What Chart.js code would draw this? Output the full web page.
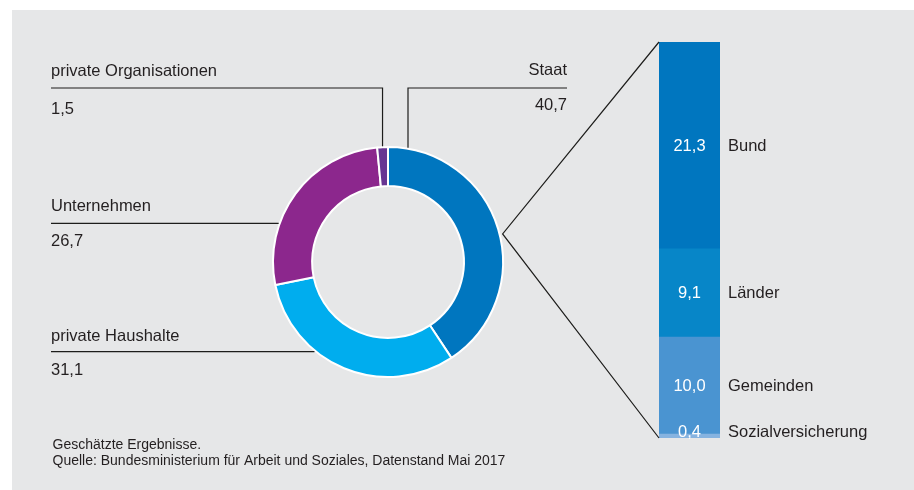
<!DOCTYPE html>
<html><head><meta charset="utf-8">
<script src="https://cdn.jsdelivr.net/npm/chart.js@4/dist/chart.umd.min.js"></script>
<style>
html,body{margin:0;padding:0;background:#fff;}
#wrap{position:relative;width:914px;height:490px;overflow:hidden;}
#panel{position:absolute;left:12px;top:10px;width:902px;height:480px;background:#e6e7e8;}
canvas{position:absolute;left:0;top:0;}
</style></head><body>
<div id="wrap"><div id="panel"></div>
<canvas id="bar" width="914" height="490"></canvas>
<canvas id="donut" width="914" height="490"></canvas>
</div>
<script>
// ---- data ----
const sectors = ['Staat', 'private Haushalte', 'Unternehmen', 'private Organisationen'];
const sectorValues = [40.7, 31.1, 26.7, 1.5];
const stateParts = ['Bund', 'Länder', 'Gemeinden', 'Sozialversicherung'];
const stateValues = [21.3, 9.1, 10.0, 0.4];
const notes = ['Geschätzte Ergebnisse.', 'Quelle: Bundesministerium für Arbeit und Soziales, Datenstand Mai 2017'];

// ---- styles ----
const sectorColors = ['#0076bf', '#00adee', '#8c278d', '#673592'];
const stateColors = ['#0076bf', '#0786c8', '#4a94d1', '#86b3e0'];
const FONT = "'Liberation Sans', Arial, Helvetica, sans-serif";
const TXT = '#231f20';
const LINE = '#1d1d1b';
const fmt = v => v.toFixed(1).replace('.', ',');

// label layout for donut (same order as sectors)
const labelLayout = [
  {align: 'right', x: 567, nameY: 75, lineY: 88, valueY: 110, elbowX: 408},
  {align: 'left', x: 51, nameY: 340.7, lineY: 351.7, valueY: 375},
  {align: 'left', x: 51, nameY: 210.7, lineY: 223.3, valueY: 246},
  {align: 'left', x: 51, nameY: 76, lineY: 88, valueY: 114, elbowMid: true}
];

Chart.defaults.font.family = FONT;

// ---- stacked bar (Staat breakdown) ----
const barTotal = stateValues.reduce((a, b) => a + b, 0);
const barDatasets = [];
for (let i = stateParts.length - 1; i >= 0; i--) {
  barDatasets.push({
    label: stateParts[i], data: [stateValues[i]], backgroundColor: stateColors[i],
    borderWidth: 0, stack: 's', barPercentage: 1, categoryPercentage: 1
  });
}
const barLabelPlugin = {
  id: 'barLabels',
  afterDatasetsDraw(chart) {
    const ctx = chart.ctx;
    ctx.save();
    ctx.textBaseline = 'alphabetic';
    chart.data.datasets.forEach((ds, di) => {
      const el = chart.getDatasetMeta(di).data[0];
      const top = Math.min(el.y, el.base), bot = Math.max(el.y, el.base);
      const h = bot - top;
      const yb = h < 20 ? bot - 1.3 : (top + bot) / 2 + 5.5;
      ctx.fillStyle = '#ffffff';
      ctx.textAlign = 'center';
      ctx.font = '16.5px ' + FONT;
      ctx.fillText(fmt(ds.data[0]), el.x, yb);
      ctx.fillStyle = TXT;
      ctx.textAlign = 'left';
      ctx.fillText(ds.label, el.x + el.width / 2 + 8, yb);
    });
    ctx.restore();
  }
};
const barChart = new Chart(document.getElementById('bar'), {
  type: 'bar',
  data: {labels: [''], datasets: barDatasets},
  options: {
    responsive: false, animation: false, devicePixelRatio: 1,
    events: [],
    layout: {padding: {left: 659, right: 194, top: 42, bottom: 52}},
    plugins: {legend: {display: false}, tooltip: {enabled: false}},
    scales: {
      x: {stacked: true, display: false},
      y: {stacked: true, display: false, min: 0, max: barTotal}
    }
  },
  plugins: [barLabelPlugin]
});

// ---- donut ----
const donutPlugin = {
  id: 'donutLabels',
  afterDraw(chart) {
    const ctx = chart.ctx;
    const arcs = chart.getDatasetMeta(0).data;
    const cx = arcs[0].x, cy = arcs[0].y, R = arcs[0].outerRadius + 1;
    ctx.save();
    ctx.strokeStyle = LINE;
    ctx.lineWidth = 1.2;
    ctx.font = '16.5px ' + FONT;
    ctx.fillStyle = TXT;
    ctx.textBaseline = 'alphabetic';
    labelLayout.forEach((L, i) => {
      ctx.textAlign = L.align;
      ctx.fillText(sectors[i], L.x, L.nameY);
      ctx.fillText(fmt(sectorValues[i]), L.x, L.valueY);
      ctx.beginPath();
      if (L.elbowX !== undefined || L.elbowMid) {
        let ex = L.elbowX;
        if (L.elbowMid) {
          const a = arcs[i];
          const mid = (a.startAngle + a.endAngle) / 2;
          ex = cx + Math.cos(mid) * R;
        }
        const ey = cy - Math.sqrt(R * R - (ex - cx) * (ex - cx));
        ctx.moveTo(L.x, L.lineY);
        ctx.lineTo(ex, L.lineY);
        ctx.lineTo(ex, ey);
      } else {
        const dx = Math.sqrt(R * R - (L.lineY - cy) * (L.lineY - cy));
        ctx.moveTo(L.x, L.lineY);
        ctx.lineTo(cx - dx, L.lineY);
      }
      ctx.stroke();
    });
    // connector from Staat slice to breakdown bar
    const a0 = arcs[0];
    const ang = (a0.startAngle + a0.endAngle) / 2 + 3 * Math.PI / 180;
    const px = cx + Math.cos(ang) * (R + 2), py = cy + Math.sin(ang) * (R + 2);
    const bm = barChart.getDatasetMeta(barChart.data.datasets.length - 1).data[0];
    const bb = barChart.getDatasetMeta(0).data[0];
    const bx = bm.x - bm.width / 2;
    ctx.beginPath();
    ctx.moveTo(bx, bm.y);
    ctx.lineTo(px, py);
    ctx.lineTo(bx, bb.base);
    ctx.stroke();
    // notes
    ctx.font = '14px ' + FONT;
    ctx.textAlign = 'left';
    ctx.fillStyle = TXT;
    ctx.fillText(notes[0], 52.5, 449.3);
    ctx.fillText(notes[1], 52.5, 465);
    ctx.restore();
  }
};
new Chart(document.getElementById('donut'), {
  type: 'doughnut',
  data: {
    labels: sectors,
    datasets: [{data: sectorValues, backgroundColor: sectorColors, borderColor: '#ffffff', borderWidth: 2}]
  },
  options: {
    responsive: false, animation: false, devicePixelRatio: 1,
    events: [],
    cutout: '66%',
    layout: {padding: {left: 272, right: 410, top: 146, bottom: 112}},
    plugins: {legend: {display: false}, tooltip: {enabled: false}}
  },
  plugins: [donutPlugin]
});
</script>
</body></html>
